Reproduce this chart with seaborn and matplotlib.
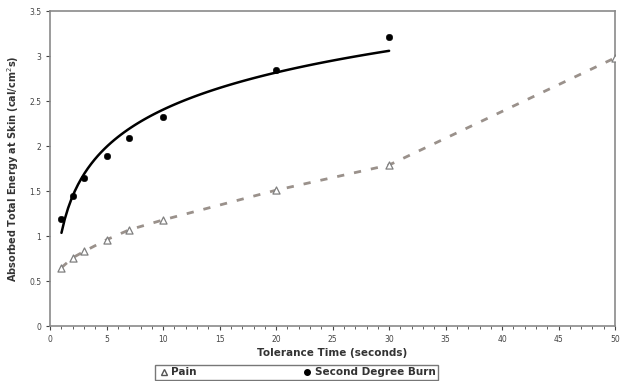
import numpy as np
import pandas as pd
import matplotlib
matplotlib.use("Agg")
import matplotlib.pyplot as plt
from matplotlib.ticker import MultipleLocator
from matplotlib.lines import Line2D
import seaborn as sns

# data

pain_time = [1, 2, 3, 5, 7, 10, 20, 30, 50]
pain_energy = [0.65, 0.76, 0.83, 0.96, 1.07, 1.18, 1.51, 1.79, 2.98]

burn_time = [1, 2, 3, 5, 7, 10, 20, 30]
burn_energy = [1.19, 1.45, 1.64, 1.89, 2.09, 2.32, 2.85, 3.21]

pain = pd.DataFrame({"time": pain_time, "energy": pain_energy})
burn = pd.DataFrame({"time": burn_time, "energy": burn_energy})

sns.set_style("white")
plt.rcParams["font.family"] = ["DejaVu Sans"]

fig = plt.figure(figsize=(6.27, 3.81), dpi=100)
ax = fig.add_axes([0.08, 0.144, 0.901, 0.827])

# pain: dashed line through open triangles
sns.lineplot(data=pain, x="time", y="energy", ax=ax, color="#9a918b",
             linestyle=(0, (2.6, 3.6)), linewidth=2.0)
sns.scatterplot(data=pain, x="time", y="energy", ax=ax, marker="^", s=26,
                facecolor="white", edgecolor="#7f7f7f", linewidth=0.9, zorder=4)

# second degree burn: log fit plus black dots
sns.regplot(data=burn, x="time", y="energy", ax=ax, logx=True, ci=None,
            truncate=True, scatter=False, line_kws={"color": "black", "linewidth": 1.8})
sns.scatterplot(data=burn, x="time", y="energy", ax=ax, color="black", s=22,
                edgecolor="black", zorder=5)

ax.set_xlim(0, 50)
ax.set_ylim(0, 3.5)
ax.xaxis.set_major_locator(MultipleLocator(5))
ax.xaxis.set_minor_locator(MultipleLocator(1))
ax.set_yticks(np.arange(0, 3.51, 0.5))
ax.set_yticklabels(["0", "0.5", "1", "1.5", "2", "2.5", "3", "3.5"])
ax.tick_params(axis="both", which="major", labelsize=5.5, colors="#444444",
               length=3, direction="out", bottom=True, left=True)
ax.tick_params(axis="x", which="minor", length=2, direction="out", bottom=True,
               color="#444444")

for side in ax.spines.values():
    side.set_color("#8a8a8a")
    side.set_linewidth(1.2)

ax.set_xlabel("Tolerance Time (seconds)", fontsize=7.5, fontweight="bold",
              color="#333333", labelpad=3)
ax.set_ylabel("Absorbed Total Energy at Skin (cal/cm$^2$s)", fontsize=7,
              fontweight="bold", color="#333333", labelpad=6)

handles = [
    Line2D([], [], marker="^", linestyle="none", markerfacecolor="white",
           markeredgecolor="#555555", markersize=5),
    Line2D([], [], marker="o", linestyle="none", color="black", markersize=4),
]
leg = fig.legend(handles, ["Pain", "Second Degree Burn"], loc="lower center",
                 bbox_to_anchor=(0.473, 0.0), ncol=2, frameon=True, fancybox=False,
                 prop={"size": 7.5, "weight": "bold"}, handletextpad=0.1,
                 columnspacing=10, borderpad=0.25, handlelength=1.2,
                 borderaxespad=0.1)
leg.get_frame().set_edgecolor("#555555")
leg.get_frame().set_linewidth(1.0)
for t in leg.get_texts():
    t.set_color("#333333")

fig.savefig("out.png", dpi=100)
